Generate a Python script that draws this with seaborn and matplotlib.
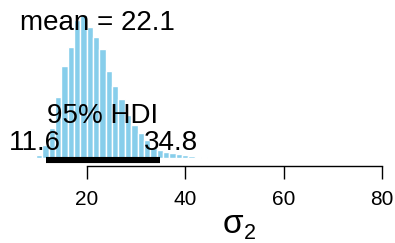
import numpy as np
import pandas as pd
import matplotlib
matplotlib.use("Agg")
import matplotlib.pyplot as plt
import seaborn as sns

# ----------------------------
# Posterior histogram (heights in bar units)
# ----------------------------
bin_start = 8.36          # left edge of first bin
bin_width = 1.289         # HDI width / 18
bar_heights = [1, 3, 13, 30, 61, 92, 111, 138, 143, 131, 121, 109, 87, 72,
               59, 43, 33, 25, 18, 10, 8, 6, 5, 4, 3, 2, 1.5, 1, 0.5]
post_mean = 22.1
hdi_low, hdi_high = 11.6, 34.8
x_ticks = [20, 40, 60, 80]

n = len(bar_heights)
edges = bin_start + bin_width * np.arange(n + 1)
df = pd.DataFrame({"x": (edges[:-1] + edges[1:]) / 2, "h": bar_heights})

sns.set_style("white")
plt.rcParams["font.family"] = ["Liberation Sans", "DejaVu Sans"]
plt.rcParams["text.color"] = "black"

fig = plt.figure(figsize=(3.95, 2.43), dpi=100)
ax = fig.add_axes([0, 1 - 166 / 243, 1, 166 / 243])

sns.histplot(data=df, x="x", weights="h", bins=n,
             binrange=(edges[0], edges[-1]), ax=ax,
             color="skyblue", edgecolor="white", linewidth=1.0, alpha=1)

# HDI bar
ax.plot([hdi_low, hdi_high], [-2, -2], color="black", lw=4.4,
        solid_capstyle="butt")

ax.set_xlim(2.31, 82.64)
ax.set_ylim(-8, 158)
ax.set_xticks(x_ticks)
ax.set_yticks([])
ax.set_xlabel("")
ax.set_ylabel("")
for s in ["left", "top", "right"]:
    ax.spines[s].set_visible(False)
ax.spines["bottom"].set_bounds(20, 80)
ax.spines["bottom"].set_linewidth(1.0)
ax.spines["bottom"].set_color("black")
ax.tick_params(axis="x", direction="out", length=9.4, width=1.0, pad=8,
               labelsize=15, bottom=True, colors="black")

ax.text(post_mean, 128, f"mean = {post_mean}", ha="center", va="baseline",
        fontsize=20)
ax.text((hdi_low + hdi_high) / 2, 35, "95% HDI", ha="center", va="baseline",
        fontsize=20)

# HDI end labels, placed like R's adj = 0.7 / 0.3
fig.canvas.draw()
rend = fig.canvas.get_renderer()
for val, frac in [(hdi_low, 0.7), (hdi_high, 0.3)]:
    t = ax.text(val, 8, f"{val}", ha="left", va="baseline", fontsize=20)
    w = t.get_window_extent(rend).width
    px = ax.transData.transform((val, 8))[0] - frac * w
    t.set_x(ax.transData.inverted().transform((px, 0))[0])

# x label: sigma with subscript 2
fig.text(243 / 395, 1 - 233 / 243, "σ", ha="right", va="baseline",
         fontsize=24)
fig.text(243.5 / 395, 1 - 238.5 / 243, "2", ha="left", va="baseline",
         fontsize=15.5)

fig.savefig("out.png", dpi=100)
